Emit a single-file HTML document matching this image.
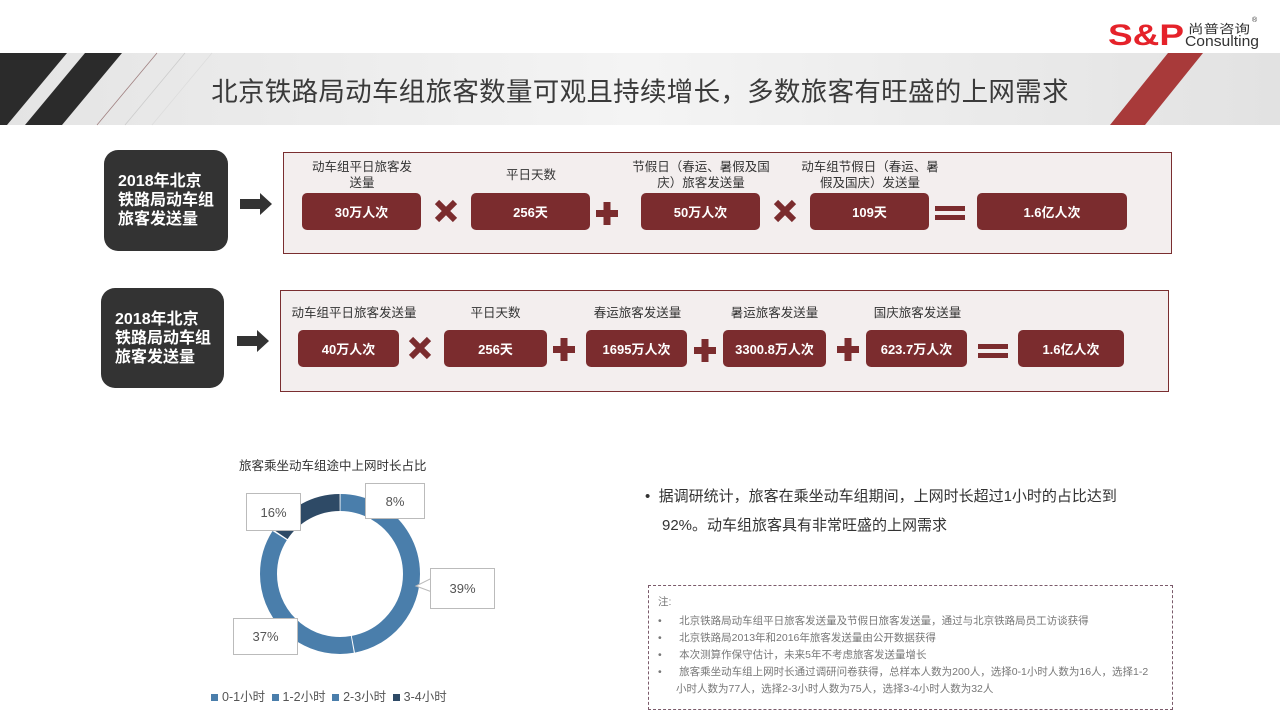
<!DOCTYPE html>
<html><head><meta charset="utf-8"><style>
*{margin:0;padding:0;box-sizing:border-box}
body{width:1280px;height:720px;background:#fff;position:relative;overflow:hidden;font-family:"Liberation Sans","Noto Sans CJK SC",sans-serif;color:#333}
.a{position:absolute}
.dk{position:absolute;background:#333;border-radius:14px;color:#fff;font-weight:bold;font-size:16px;line-height:19px;padding-left:14px;display:flex;align-items:center}
.pn{position:absolute;background:#f3eeee;border:1px solid #7a2e30}
.bx{position:absolute;background:#7b2c2e;border-radius:5px;color:#fff;font-weight:bold;font-size:13px;display:flex;align-items:center;justify-content:center;height:37px}
.lb{position:absolute;font-size:12.5px;line-height:16px;text-align:center;color:#333}
.cl{position:absolute;background:#fff;border:1px solid #bbb;font-size:13px;color:#555;display:flex;align-items:center;justify-content:center}
.nt{position:absolute;font-size:10.5px;color:#777;line-height:17px}
</style></head><body>
<svg class="a" style="left:0;top:0" width="1280" height="130">
<defs><linearGradient id="g" x1="0" x2="1"><stop offset="0" stop-color="#e4e4e4"/><stop offset="0.5" stop-color="#f4f4f4"/><stop offset="1" stop-color="#e2e2e2"/></linearGradient></defs>
<rect x="0" y="53" width="1280" height="72" fill="url(#g)"/>
<polygon points="0,53 67,53 7,125 0,125" fill="#2b2b2b"/>
<polygon points="85,53 122,53 62,125 25,125" fill="#2b2b2b"/>
<line x1="157" y1="53" x2="97" y2="125" stroke="#a08080" stroke-width="0.8"/>
<line x1="185" y1="53" x2="125" y2="125" stroke="#ccc" stroke-width="0.8"/>
<line x1="212" y1="53" x2="152" y2="125" stroke="#ddd" stroke-width="0.8"/>
<polygon points="1168,53 1203,53 1145,125 1110,125" fill="#a83a3a"/>
<text x="1108" y="45" font-family="Liberation Sans" font-weight="bold" font-size="30" fill="#e5222a" textLength="76" lengthAdjust="spacingAndGlyphs">S&amp;P</text>
<text x="1188" y="33" font-family="Noto Sans CJK SC" font-size="12" fill="#333" textLength="62" lengthAdjust="spacingAndGlyphs">尚普咨询</text>
<text x="1252" y="22" font-size="7" fill="#333">®</text>
<text x="1185" y="46" font-family="Liberation Sans" font-size="15" fill="#333" textLength="74" lengthAdjust="spacingAndGlyphs">Consulting</text>
</svg>
<div class="a" style="left:0;top:70px;width:1280px;text-align:center;font-size:26.5px;color:#3a3a3a;letter-spacing:0.3px;">北京铁路局动车组旅客数量可观且持续增长，多数旅客有旺盛的上网需求</div>

<div class="dk" style="left:104px;top:150px;width:124px;height:101px">2018年北京<br>铁路局动车组<br>旅客发送量</div>
<svg class="a" style="left:240px;top:193px" width="34" height="22"><polygon points="0,6 20,6 20,0 32,11 20,22 20,16 0,16" fill="#333"/></svg>
<div class="pn" style="left:283px;top:152px;width:889px;height:102px"></div>
<div class="lb" style="left:292px;top:159px;width:140px">动车组平日旅客发<br>送量</div>
<div class="lb" style="left:461px;top:167px;width:140px">平日天数</div>
<div class="lb" style="left:616px;top:159px;width:170px">节假日（春运、暑假及国<br>庆）旅客发送量</div>
<div class="lb" style="left:785px;top:159px;width:170px">动车组节假日（春运、暑<br>假及国庆）发送量</div>
<div class="bx" style="left:302px;top:193px;width:119px">30万人次</div>
<div class="bx" style="left:471px;top:193px;width:119px">256天</div>
<div class="bx" style="left:641px;top:193px;width:119px">50万人次</div>
<div class="bx" style="left:810px;top:193px;width:119px">109天</div>
<div class="bx" style="left:977px;top:193px;width:150px">1.6亿人次</div>

<div class="dk" style="left:101px;top:288px;width:123px;height:100px">2018年北京<br>铁路局动车组<br>旅客发送量</div>
<svg class="a" style="left:237px;top:330px" width="34" height="22"><polygon points="0,6 20,6 20,0 32,11 20,22 20,16 0,16" fill="#333"/></svg>
<div class="pn" style="left:280px;top:290px;width:889px;height:102px"></div>
<div class="lb" style="left:280px;top:305px;width:148px">动车组平日旅客发送量</div>
<div class="lb" style="left:444px;top:305px;width:103px">平日天数</div>
<div class="lb" style="left:580px;top:305px;width:115px">春运旅客发送量</div>
<div class="lb" style="left:717px;top:305px;width:115px">暑运旅客发送量</div>
<div class="lb" style="left:860px;top:305px;width:115px">国庆旅客发送量</div>
<div class="bx" style="left:298px;top:330px;width:101px">40万人次</div>
<div class="bx" style="left:444px;top:330px;width:103px">256天</div>
<div class="bx" style="left:586px;top:330px;width:101px">1695万人次</div>
<div class="bx" style="left:723px;top:330px;width:103px">3300.8万人次</div>
<div class="bx" style="left:866px;top:330px;width:101px">623.7万人次</div>
<div class="bx" style="left:1018px;top:330px;width:106px">1.6亿人次</div>

<svg class="a" style="left:0;top:0" width="1280" height="400" fill="#7b2c2e">
<path d="M437,202 L455,220 M455,202 L437,220" stroke="#7b2c2e" stroke-width="6"/>
<path d="M776,202 L794,220 M794,202 L776,220" stroke="#7b2c2e" stroke-width="6"/>
<path d="M411,339 L429,357 M429,339 L411,357" stroke="#7b2c2e" stroke-width="6"/>
<rect x="596" y="210" width="22" height="7"/><rect x="603.5" y="202" width="7" height="23"/>
<rect x="553" y="346" width="22" height="7"/><rect x="560.5" y="338" width="7" height="23"/>
<rect x="694" y="347" width="22" height="7"/><rect x="701.5" y="339" width="7" height="23"/>
<rect x="837" y="346" width="22" height="7"/><rect x="844.5" y="338" width="7" height="23"/>
<rect x="935" y="206" width="30" height="5"/><rect x="935" y="215" width="30" height="5"/>
<rect x="978" y="344" width="30" height="5"/><rect x="978" y="353" width="30" height="5"/>
</svg>

<div class="a" style="left:239px;top:455px;font-size:12.5px;color:#333">旅客乘坐动车组途中上网时长占比</div>
<svg class="a" style="left:0;top:0" width="640" height="720">
<g transform="rotate(-90 340 574)" fill="none" stroke-width="17">
<circle cx="340" cy="574" r="71.5" stroke="#4a7eab" stroke-dasharray="34.9 414.3" stroke-dashoffset="-0.5"/>
<circle cx="340" cy="574" r="71.5" stroke="#4a7eab" stroke-dasharray="174.2 275" stroke-dashoffset="-36.9"/>
<circle cx="340" cy="574" r="71.5" stroke="#4a7eab" stroke-dasharray="165.2 284" stroke-dashoffset="-212.1"/>
<circle cx="340" cy="574" r="71.5" stroke="#2e4a66" stroke-dasharray="69.9 379.3" stroke-dashoffset="-378.8"/>
</g>
<polygon points="366,510 380,500 380,514" fill="#fff" stroke="#bbb"/>
<polygon points="416,586 432,578 432,592" fill="#fff" stroke="#bbb"/>
</svg>
<div class="cl" style="left:365px;top:483px;width:60px;height:36px">8%</div>
<div class="cl" style="left:430px;top:568px;width:65px;height:41px">39%</div>
<div class="cl" style="left:233px;top:618px;width:65px;height:37px">37%</div>
<div class="cl" style="left:246px;top:493px;width:55px;height:38px">16%</div>
<div class="a" style="left:211px;top:686px;font-size:12.5px;color:#555;white-space:nowrap">
<span style="display:inline-block;width:7px;height:7px;background:#4a7eab;margin-right:4px"></span>0-1小时 <span style="display:inline-block;width:7px;height:7px;background:#4a7eab;margin:0 4px 0 3px"></span>1-2小时 <span style="display:inline-block;width:7px;height:7px;background:#4a7eab;margin:0 4px 0 3px"></span>2-3小时 <span style="display:inline-block;width:7px;height:7px;background:#2e4a66;margin:0 4px 0 3px"></span>3-4小时</div>

<div class="a" style="left:645px;top:482px;font-size:15px;line-height:29px;color:#333">•&nbsp; 据调研统计，旅客在乘坐动车组期间，上网时长超过1小时的占比达到<br><span style="padding-left:17px">92%。动车组旅客具有非常旺盛的上网需求</span></div>

<div class="a" style="left:648px;top:585px;width:525px;height:125px;border:1px dashed #7a5a6a"></div>
<div class="nt" style="left:658px;top:594px">注:</div>
<div class="nt" style="left:658px;top:613px;width:510px">
<div>•&nbsp;&nbsp;&nbsp;&nbsp;&nbsp; 北京铁路局动车组平日旅客发送量及节假日旅客发送量，通过与北京铁路局员工访谈获得</div>
<div>•&nbsp;&nbsp;&nbsp;&nbsp;&nbsp; 北京铁路局2013年和2016年旅客发送量由公开数据获得</div>
<div>•&nbsp;&nbsp;&nbsp;&nbsp;&nbsp; 本次测算作保守估计，未来5年不考虑旅客发送量增长</div>
<div>•&nbsp;&nbsp;&nbsp;&nbsp;&nbsp; 旅客乘坐动车组上网时长通过调研问卷获得，总样本人数为200人，选择0-1小时人数为16人，选择1-2</div>
<div style="padding-left:18px">小时人数为77人，选择2-3小时人数为75人，选择3-4小时人数为32人</div>
</div>
</body></html>
